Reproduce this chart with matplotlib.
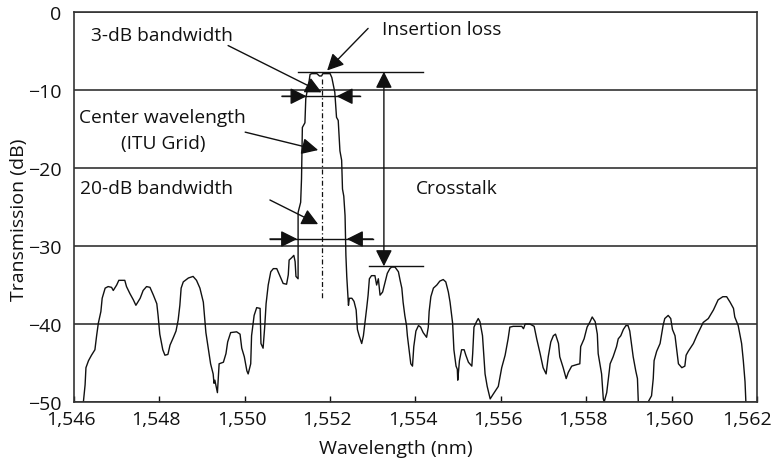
import matplotlib
matplotlib.use("Agg")
import matplotlib.pyplot as plt
from matplotlib.ticker import FuncFormatter
from matplotlib.transforms import ScaledTranslation

plt.rcParams['font.family'] = ['Open Sans', 'DejaVu Sans']

# filter transmission trace
wavelength = [
    1546.22, 1546.26, 1546.28, 1546.34, 1546.41, 1546.49, 1546.53, 1546.57, 1546.63, 1546.66,
    1546.73, 1546.80, 1546.88, 1546.92, 1547.00, 1547.05, 1547.19, 1547.23, 1547.31, 1547.39,
    1547.45, 1547.55, 1547.62, 1547.70, 1547.78, 1547.86, 1547.94, 1547.97, 1548.01, 1548.08,
    1548.13, 1548.20, 1548.25, 1548.33, 1548.39, 1548.44, 1548.48, 1548.51, 1548.56, 1548.68,
    1548.79, 1548.87, 1548.95, 1549.03, 1549.09, 1549.15, 1549.20, 1549.26, 1549.28, 1549.30,
    1549.36, 1549.40, 1549.50, 1549.56, 1549.60, 1549.67, 1549.81, 1549.89, 1549.93, 1549.99,
    1550.05, 1550.08, 1550.14, 1550.16, 1550.22, 1550.28, 1550.36, 1550.38, 1550.43, 1550.47,
    1550.50, 1550.55, 1550.61, 1550.67, 1550.75, 1550.83, 1550.90, 1550.98, 1551.02, 1551.04,
    1551.10, 1551.15, 1551.18, 1551.20, 1551.25,
    # main passband
    1551.25, 1551.31, 1551.33, 1551.35, 1551.41, 1551.43, 1551.47, 1551.51, 1551.53, 1551.57,
    1551.69, 1551.75, 1551.80, 1551.83, 1552.00, 1552.04, 1552.07, 1552.11, 1552.15, 1552.19,
    1552.23, 1552.27, 1552.29, 1552.32, 1552.35, 1552.37,
    # right side lobes
    1552.39, 1552.43, 1552.45, 1552.51, 1552.56, 1552.61, 1552.64, 1552.68, 1552.74, 1552.78,
    1552.82, 1552.86, 1552.89, 1552.92, 1552.97, 1553.05, 1553.09, 1553.13, 1553.17, 1553.23,
    1553.29, 1553.34, 1553.40, 1553.44, 1553.52, 1553.60, 1553.64, 1553.68, 1553.71, 1553.75,
    1553.79, 1553.81, 1553.85, 1553.89, 1553.93, 1553.96, 1554.01, 1554.07, 1554.12, 1554.18,
    1554.26, 1554.30, 1554.32, 1554.36, 1554.42, 1554.50, 1554.57, 1554.65, 1554.71, 1554.77,
    1554.81, 1554.87, 1554.90, 1554.95, 1554.98, 1554.99, 1555.03, 1555.08, 1555.14, 1555.18,
    1555.24, 1555.32, 1555.34, 1555.37, 1555.43, 1555.47, 1555.51, 1555.57, 1555.63, 1555.68,
    1555.75, 1555.82, 1555.94, 1556.02, 1556.10, 1556.17, 1556.21, 1556.29, 1556.49, 1556.53,
    1556.57, 1556.68, 1556.78, 1556.84, 1556.92, 1556.99, 1557.06, 1557.11, 1557.17, 1557.23,
    1557.28, 1557.35, 1557.38, 1557.46, 1557.53, 1557.58, 1557.66, 1557.78, 1557.85, 1557.87,
    1557.95, 1558.02, 1558.09, 1558.14, 1558.21, 1558.26, 1558.28, 1558.36, 1558.40, 1558.42,
    1558.48, 1558.52, 1558.56, 1558.63, 1558.71, 1558.75, 1558.81, 1558.87, 1558.93, 1558.98,
    1559.02, 1559.06, 1559.10, 1559.16, 1559.20, 1559.22, 1559.45, 1559.53, 1559.57, 1559.59,
    1559.65, 1559.73, 1559.80, 1559.84, 1559.92, 1559.98, 1560.02, 1560.08, 1560.12, 1560.16,
    1560.24, 1560.31, 1560.34, 1560.39, 1560.51, 1560.59, 1560.66, 1560.74, 1560.86, 1560.98,
    1561.09, 1561.20, 1561.29, 1561.37, 1561.45, 1561.48, 1561.56, 1561.64, 1561.68, 1561.72,
    1561.74,
]
transmission = [
    -50.0, -47.8, -45.6, -44.7, -44.0, -43.3, -41.5, -39.9, -38.4, -36.7,
    -35.4, -35.2, -35.3, -35.7, -35.0, -34.4, -34.4, -35.2, -36.1, -36.9,
    -37.6, -36.7, -35.7, -35.2, -35.3, -36.3, -37.4, -38.9, -41.3, -43.3,
    -44.0, -43.9, -42.7, -41.7, -40.9, -39.5, -37.6, -35.4, -34.6, -34.1,
    -33.9, -34.4, -35.4, -37.2, -41.1, -43.3, -45.1, -46.4, -47.6, -47.2,
    -48.8, -45.1, -44.9, -43.8, -42.3, -41.1, -41.0, -41.3, -43.1, -44.2,
    -46.0, -46.4, -45.1, -41.5, -38.9, -37.9, -38.0, -42.5, -43.1, -40.2,
    -37.4, -35.0, -33.3, -32.9, -32.9, -33.9, -34.8, -34.9, -33.7, -31.8,
    -31.5, -31.2, -32.0, -33.9, -34.2,
    -25.7, -24.4, -21.4, -14.8, -14.2, -11.1, -9.9, -8.8, -8.0, -7.9,
    -7.9, -8.2, -8.2, -7.9, -7.9, -8.4, -9.2, -10.3, -13.5, -13.9,
    -17.8, -19.0, -22.7, -23.6, -26.1, -31.2,
    -33.9, -37.6, -36.7, -36.7, -37.1, -38.2, -40.7, -41.5, -42.5, -41.5,
    -39.7, -37.8, -36.3, -34.2, -33.8, -33.8, -35.0, -34.2, -36.3, -35.9,
    -34.6, -33.5, -32.9, -32.7, -32.7, -33.3, -34.4, -35.4, -37.2, -38.9,
    -40.2, -41.5, -43.3, -45.1, -45.4, -42.9, -40.9, -40.2, -40.4, -41.1,
    -41.7, -40.4, -38.4, -36.5, -35.4, -35.0, -34.5, -34.3, -34.6, -35.9,
    -37.2, -39.9, -43.3, -45.4, -45.8, -47.2, -44.7, -43.3, -43.3, -44.0,
    -44.9, -45.4, -43.8, -40.4, -39.7, -39.3, -39.7, -41.5, -46.4, -48.0,
    -49.6, -49.0, -48.0, -45.6, -44.0, -41.9, -40.4, -40.3, -40.3, -40.6,
    -40.0, -40.0, -40.3, -41.9, -43.8, -45.6, -46.4, -44.2, -42.3, -41.5,
    -41.3, -42.5, -44.2, -45.6, -47.0, -46.2, -45.4, -45.2, -45.1, -42.9,
    -41.9, -40.4, -39.7, -39.1, -39.7, -41.3, -43.8, -46.4, -49.6, -50.0,
    -48.8, -47.0, -45.1, -44.2, -42.9, -41.9, -41.5, -40.7, -40.2, -40.2,
    -40.9, -42.5, -44.2, -46.0, -47.0, -50.0, -50.0, -49.2, -47.0, -44.7,
    -43.5, -42.5, -40.2, -39.3, -38.9, -39.3, -40.7, -41.5, -43.3, -45.1,
    -45.6, -45.4, -44.0, -43.5, -42.5, -41.5, -40.7, -39.8, -39.3, -38.2,
    -36.9, -36.5, -36.5, -37.2, -38.0, -39.1, -40.2, -42.5, -44.7, -47.4,
    -50.0,
]

x_ticks = [1546, 1548, 1550, 1552, 1554, 1556, 1558, 1560, 1562]
y_ticks = [0, -10, -20, -30, -40, -50]

# levels used by the annotations (dB / nm)
center_wl = 1551.80
peak_level = -7.65
lobe_level = -32.6
bw3_level = -10.8
bw20_level = -29.1

ink = '#111111'
fig = plt.figure(figsize=(7.74, 4.6), dpi=100)
ax = fig.add_axes([0.0956, 0.1239, 0.8824, 0.8478])

ax.plot(wavelength, transmission, color=ink, lw=1.0)

ax.set_xlim(1546, 1562)
ax.set_ylim(-50, 0)
ax.set_xticks(x_ticks)
ax.set_yticks(y_ticks)
ax.xaxis.set_major_formatter(FuncFormatter(lambda v, p: f'{v:,.0f}'))
ax.yaxis.set_major_formatter(FuncFormatter(lambda v, p: f'{v:.0f}'.replace('-', '\u2212')))
ax.tick_params(axis='x', direction='in', length=4, width=1, pad=6, labelsize=14, colors=ink)
ax.tick_params(axis='y', length=0, pad=9, labelsize=14, colors=ink)
ax.grid(axis='y', color='#222222', lw=1.1)
for s in ax.spines.values():
    s.set_color('#333333')
    s.set_linewidth(1.2)

# tick labels in the scan sit a little left of their ticks; last one kept inside the page
xlabels = ax.get_xticklabels()
for i, lab in enumerate(xlabels):
    dx = -10 if i == len(xlabels) - 1 else -3
    lab.set_transform(lab.get_transform() + ScaledTranslation(dx / 100, 0, fig.dpi_scale_trans))

ax.set_xlabel('Wavelength (nm)', fontsize=14, color=ink)
ax.xaxis.set_label_coords(0.471, -0.095)
ax.set_ylabel('Transmission (dB)', fontsize=14, color=ink)
ax.yaxis.set_label_coords(-0.067, 0.47)

arrow = dict(arrowstyle='-|>,head_length=0.5,head_width=0.25', mutation_scale=20,
             color=ink, lw=1.0, shrinkA=0, shrinkB=0)
fs = 13.8

# insertion loss
ax.text(1553.21, -2.2, 'Insertion loss', fontsize=fs, va='center', ha='left', color=ink)
ax.annotate('', xy=(1551.93, -7.5), xytext=(1552.89, -2.1), arrowprops=arrow)
ax.plot([1551.25, 1554.17], [peak_level, peak_level], color=ink, lw=1.0)

# crosstalk
ax.plot([1552.92, 1554.17], [lobe_level, lobe_level], color=ink, lw=1.0)
ax.annotate('', xy=(1553.26, peak_level), xytext=(1553.26, lobe_level),
            arrowprops=dict(arrow, arrowstyle='<|-|>,head_length=0.5,head_width=0.25'))
ax.text(1554.01, -22.5, 'Crosstalk', fontsize=fs, va='center', ha='left', color=ink)

# 3-dB bandwidth
ax.text(1546.41, -2.9, '3-dB bandwidth', fontsize=fs, va='center', ha='left', color=ink)
ax.annotate('', xy=(center_wl, -10.3), xytext=(1549.61, -4.3), arrowprops=arrow)
ax.plot([1550.87, 1552.70], [bw3_level, bw3_level], color=ink, lw=1.0)
ax.annotate('', xy=(1551.45, bw3_level), xytext=(1550.87, bw3_level), arrowprops=arrow)
ax.annotate('', xy=(1552.15, bw3_level), xytext=(1552.70, bw3_level), arrowprops=arrow)

# center wavelength
ax.plot([center_wl, center_wl], [-8.6, -36.7], color=ink, lw=0.9,
        linestyle=(0, (4, 2, 1, 2)))
ax.text(1548.08, -15.1, 'Center wavelength\n(ITU Grid)', fontsize=fs, va='center',
        ha='center', linespacing=1.55, color=ink)
ax.annotate('', xy=(1551.72, -17.7), xytext=(1550.01, -15.4), arrowprops=arrow)

# 20-dB bandwidth
ax.text(1546.14, -22.6, '20-dB bandwidth', fontsize=fs, va='center', ha='left', color=ink)
ax.annotate('', xy=(1551.72, -27.2), xytext=(1550.59, -24.1), arrowprops=arrow)
ax.plot([1550.59, 1553.0], [bw20_level, bw20_level], color=ink, lw=1.0)
ax.annotate('', xy=(1551.23, bw20_level), xytext=(1550.59, bw20_level), arrowprops=arrow)
ax.annotate('', xy=(1552.39, bw20_level), xytext=(1553.0, bw20_level), arrowprops=arrow)

fig.savefig('out.png', dpi=100)
